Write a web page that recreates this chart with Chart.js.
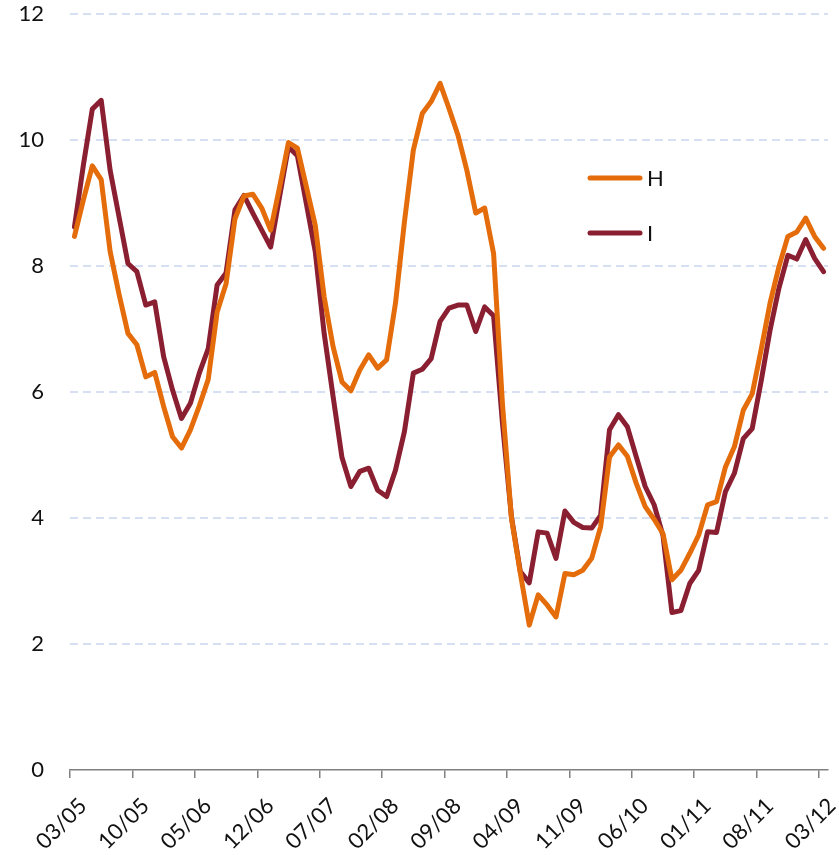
<!DOCTYPE html>
<html>
<head>
<meta charset="utf-8">
<script src="https://cdn.jsdelivr.net/npm/chart.js@4/dist/chart.umd.min.js"></script>
<style>
  html, body { margin: 0; padding: 0; background: #ffffff; }
  #wrap { width: 839px; height: 855px; }
</style>
</head>
<body>
<div id="wrap"><canvas id="c" width="839" height="855"></canvas></div>
<script>
const months = [
  '03/05','04/05','05/05','06/05','07/05','08/05','09/05','10/05','11/05','12/05',
  '01/06','02/06','03/06','04/06','05/06','06/06','07/06','08/06','09/06','10/06','11/06','12/06',
  '01/07','02/07','03/07','04/07','05/07','06/07','07/07','08/07','09/07','10/07','11/07','12/07',
  '01/08','02/08','03/08','04/08','05/08','06/08','07/08','08/08','09/08','10/08','11/08','12/08',
  '01/09','02/09','03/09','04/09','05/09','06/09','07/09','08/09','09/09','10/09','11/09','12/09',
  '01/10','02/10','03/10','04/10','05/10','06/10','07/10','08/10','09/10','10/10','11/10','12/10',
  '01/11','02/11','03/11','04/11','05/11','06/11','07/11','08/11','09/11','10/11','11/11','12/11',
  '01/12','02/12','03/12'
];

const tickLabels = ['03/05','10/05','05/06','12/06','07/07','02/08','09/08','04/09','11/09','06/10','01/11','08/11','03/12'];

const yTicks = [0, 2, 4, 6, 8, 10, 12];

const seriesH = [
  8.47, 9.05, 9.59, 9.37, 8.23, 7.55, 6.93, 6.75, 6.24, 6.31,
  5.77, 5.29, 5.11, 5.40, 5.78, 6.20, 7.27, 7.72, 8.75, 9.11,
  9.14, 8.92, 8.57, 9.25, 9.96, 9.87, 9.26, 8.65, 7.51, 6.72,
  6.16, 6.02, 6.35, 6.59, 6.38, 6.51, 7.41, 8.70, 9.84, 10.42,
  10.61, 10.90, 10.50, 10.08, 9.52, 8.84, 8.92, 8.20, 5.80, 4.00,
  3.12, 2.30, 2.78, 2.62, 2.43, 3.12, 3.10, 3.17, 3.36, 3.86,
  4.97, 5.16, 4.98, 4.55, 4.18, 3.98, 3.75, 3.02, 3.17, 3.44,
  3.73, 4.21, 4.26, 4.81, 5.13, 5.71, 5.97, 6.67, 7.41, 7.99,
  8.47, 8.54, 8.76, 8.47, 8.28
];

const seriesI = [
  8.62, 9.60, 10.49, 10.63, 9.52, 8.78, 8.04, 7.91, 7.38, 7.43,
  6.56, 6.03, 5.58, 5.82, 6.30, 6.69, 7.70, 7.89, 8.89, 9.12,
  8.84, 8.57, 8.30, 9.10, 9.89, 9.75, 8.99, 8.23, 6.93, 5.93,
  4.96, 4.50, 4.74, 4.79, 4.44, 4.34, 4.76, 5.37, 6.30, 6.36,
  6.53, 7.12, 7.33, 7.38, 7.38, 6.96, 7.35, 7.21, 5.50, 4.02,
  3.15, 2.97, 3.78, 3.76, 3.36, 4.11, 3.93, 3.85, 3.84, 4.04,
  5.40, 5.64, 5.45, 4.97, 4.50, 4.21, 3.72, 2.50, 2.53, 2.96,
  3.17, 3.78, 3.77, 4.42, 4.71, 5.26, 5.42, 6.17, 6.98, 7.65,
  8.17, 8.11, 8.42, 8.12, 7.91
];

const FONT = 'Lato, "Open Sans", "Liberation Sans", sans-serif';

const insideLegend = {
  id: 'insideLegend',
  afterDatasetsDraw(chart) {
    const ctx = chart.ctx;
    chart.data.datasets.forEach((ds, k) => {
      const y = 178 + k * 55;
      ctx.save();
      ctx.strokeStyle = ds.borderColor;
      ctx.lineWidth = 5;
      ctx.lineCap = 'round';
      ctx.beginPath();
      ctx.moveTo(590, y);
      ctx.lineTo(640, y);
      ctx.stroke();
      ctx.fillStyle = '#111111';
      ctx.font = '22px ' + FONT;
      ctx.textAlign = 'left';
      ctx.textBaseline = 'middle';
      ctx.fillText(ds.label, 647, y + 1);
      ctx.restore();
    });
  }
};

new Chart(document.getElementById('c'), {
  type: 'line',
  data: {
    datasets: [
      {
        label: 'H',
        data: seriesH.map((v, i) => ({ x: i, y: v })),
        borderColor: '#E46C0A',
        backgroundColor: '#E46C0A',
        borderWidth: 5,
        pointRadius: 0,
        tension: 0,
        borderJoinStyle: 'round',
        borderCapStyle: 'round'
      },
      {
        label: 'I',
        data: seriesI.map((v, i) => ({ x: i, y: v })),
        borderColor: '#8B1F32',
        backgroundColor: '#8B1F32',
        borderWidth: 5,
        pointRadius: 0,
        tension: 0,
        borderJoinStyle: 'round',
        borderCapStyle: 'round'
      }
    ]
  },
  options: {
    responsive: false,
    devicePixelRatio: 1,
    animation: false,
    layout: { padding: { top: 14, right: 11, left: 0, bottom: 0 } },
    plugins: {
      legend: { display: false },
      tooltip: { enabled: false }
    },
    scales: {
      x: {
        type: 'linear',
        min: -0.5,
        max: months.length - 0.5,
        afterBuildTicks: ax => {
          ax.ticks = tickLabels.map(t => ({ value: months.indexOf(t) - 0.5 }));
        },
        afterFit: ax => {
          ax.height = 85;
          ax.paddingLeft = 0;
          ax.paddingRight = 0;
        },
        border: { display: true, color: '#808080', width: 1.5 },
        grid: {
          display: true,
          drawOnChartArea: false,
          drawTicks: true,
          tickLength: 8,
          color: '#808080',
          lineWidth: 1.5
        },
        ticks: {
          autoSkip: false,
          maxRotation: 45,
          minRotation: 45,
          padding: 15,
          labelOffset: 13,
          color: '#111111',
          font: { family: FONT, size: 22 },
          callback: (v, i) => tickLabels[i]
        }
      },
      y: {
        min: 0,
        max: 12,
        afterBuildTicks: ax => {
          ax.ticks = yTicks.map(v => ({ value: v }));
        },
        afterFit: ax => {
          ax.width = 70;
          ax.paddingTop = 0;
          ax.paddingBottom = 0;
        },
        border: { display: false, dash: [8, 5] },
        grid: {
          drawTicks: false,
          lineWidth: 2,
          color: c => (c.tick && c.tick.value === 0) ? 'rgba(0,0,0,0)' : '#D6E0F2'
        },
        ticks: {
          padding: 26,
          color: '#111111',
          font: { family: FONT, size: 22 },
          callback: v => String(v)
        }
      }
    }
  },
  plugins: [insideLegend]
});
</script>
</body>
</html>
